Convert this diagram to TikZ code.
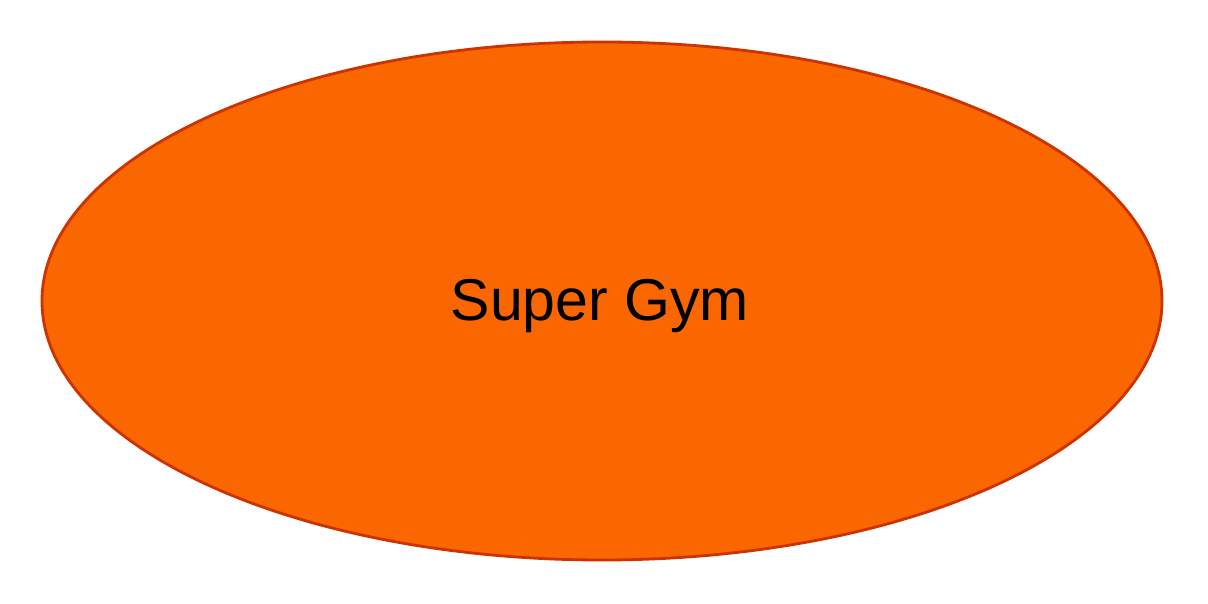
\documentclass[tikz,border=0pt]{standalone}
\usepackage{fontspec}
\setmainfont{Liberation Sans}
\usetikzlibrary{shapes.geometric}
\definecolor{gymfill}{RGB}{250,102,0}
\definecolor{gymline}{RGB}{204,51,0}
\tikzset{
  gymellipse/.style={ellipse, draw=gymline, fill=gymfill, line width=2.8pt,
    minimum width=1120pt, minimum height=518pt, inner sep=0pt},
  gymlabel/.style={font=\fontsize{59}{63}\selectfont, text=black, inner sep=0pt}
}
\begin{document}
\begin{tikzpicture}[x=1pt,y=-1pt]
\useasboundingbox (0,0) rectangle (1208,604);
\node[gymellipse] (gym) at (602,301) {};
\node[gymlabel, anchor=base] (lbl) at (600,320) {Super Gym};
\end{tikzpicture}
\end{document}
